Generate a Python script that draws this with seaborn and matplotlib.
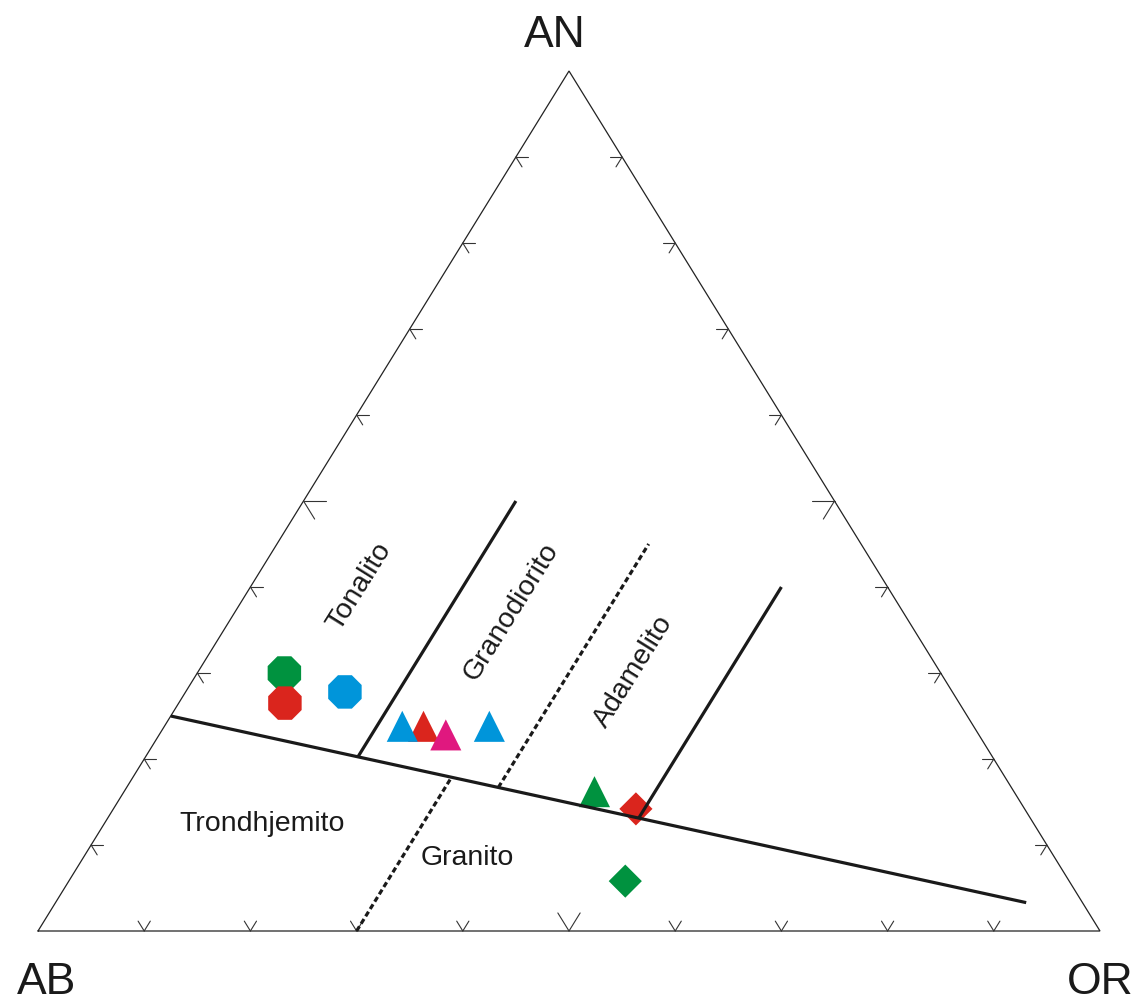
import numpy as np
import pandas as pd
import matplotlib
matplotlib.use("Agg")
import matplotlib.pyplot as plt
import seaborn as sns

# --- Samples (normative feldspar proportions, fractions of AB + AN + OR) ---
sample_ab = [0.618, 0.635, 0.572, 0.518, 0.538, 0.502, 0.456, 0.395, 0.366, 0.418]
sample_an = [0.300, 0.265, 0.278, 0.238, 0.238, 0.228, 0.238, 0.162, 0.142, 0.058]
sample_or = [0.082, 0.100, 0.150, 0.244, 0.224, 0.270, 0.306, 0.443, 0.492, 0.524]
sample_shape = ["octagon", "octagon", "octagon", "triangle", "triangle", "triangle",
                "triangle", "triangle", "diamond", "diamond"]
sample_color = ["#00923f", "#da251d", "#0095da", "#da251d", "#0095da", "#e0187f",
                "#0095da", "#00923f", "#da251d", "#00923f"]

# --- O'Connor field boundaries ---
# Trondhjemite/granite boundary (AB, AN, OR at both ends)
main_start = (0.750, 0.250, 0.000)
main_end = (0.053, 0.033, 0.914)
# Upper boundaries: constant OR, from the main boundary up to the given AN
upper_or = [0.20, 0.35, 0.50]
upper_top_an = [0.50, 0.45, 0.40]
upper_dashed = [False, True, False]
# Lower boundary: constant OR from the base up to the main boundary
lower_or = 0.30

tick_values = [0.1, 0.2, 0.3, 0.4, 0.5, 0.6, 0.7, 0.8, 0.9]

field_names = ["Tonalito", "Granodiorito", "Adamelito", "Trondhjemito", "Granito"]
apex_names = ["AB", "AN", "OR"]


def tern(ab, an, or_):
    ab, an, or_ = np.asarray(ab, float), np.asarray(an, float), np.asarray(or_, float)
    tot = ab + an + or_
    return (or_ + an / 2) / tot, an / tot


sns.set_theme(style="white")
plt.rcParams["font.family"] = ["Liberation Sans", "DejaVu Sans"]

fig = plt.figure(figsize=(11.43, 10.03), dpi=100)
ax = fig.add_axes([0, 0, 1, 1])
ax.set_xlim(-38 / 1062, 1105 / 1062)
ax.set_ylim(-71 / 860, 932 / 860)
ax.axis("off")

# triangle outline
vx, vy = tern([1, 0, 0, 1], [0, 1, 0, 0], [0, 0, 1, 0])
ax.plot(vx, vy, color="#222222", lw=0.9, zorder=3, solid_joinstyle="miter")

# tick stubs: short pieces of the grid lines through each tick point
for v in tick_values:
    d = 0.021 if abs(v - 0.5) < 1e-9 else 0.0115
    # left edge (OR = 0): constant AN to the right, constant AB down-right
    for p, q in [((1 - v, v, 0), (1 - v - d, v, d)), ((1 - v, v, 0), (1 - v, v - d, d))]:
        x, y = tern(*zip(p, q))
        ax.plot(x, y, color="#333333", lw=0.8, zorder=3)
    # right edge (AB = 0): constant AN to the left, constant OR down-left
    for p, q in [((0, v, 1 - v), (d, v, 1 - v - d)), ((0, v, 1 - v), (d, v - d, 1 - v))]:
        x, y = tern(*zip(p, q))
        ax.plot(x, y, color="#333333", lw=0.8, zorder=3)
    # base (AN = 0): constant OR up-right, constant AB up-left
    for p, q in [((1 - v, 0, v), (1 - v - d, d, v)), ((1 - v, 0, v), (1 - v, d, v - d))]:
        x, y = tern(*zip(p, q))
        ax.plot(x, y, color="#333333", lw=0.8, zorder=3)

# samples
df = pd.DataFrame({"AB": sample_ab, "AN": sample_an, "OR": sample_or,
                   "shape": sample_shape, "color": sample_color})
df["x"], df["y"] = tern(df["AB"], df["AN"], df["OR"])
marker_of = {"octagon": "8", "triangle": "^", "diamond": "D"}
size_of = {"octagon": 680, "triangle": 500, "diamond": 285}
for shape in ["octagon", "triangle", "diamond"]:
    sub = df[df["shape"] == shape]
    sns.scatterplot(data=sub, x="x", y="y", marker=marker_of[shape], s=size_of[shape],
                    c=sub["color"].tolist(), linewidth=0, ax=ax, zorder=2, legend=False)
ax.set_xlabel("")
ax.set_ylabel("")


def on_main(or_val):
    t = (or_val - main_start[2]) / (main_end[2] - main_start[2])
    return main_start[1] + t * (main_end[1] - main_start[1])


# field boundaries
mx, my = tern(*zip(main_start, main_end))
ax.plot(mx, my, color="#1a1a1a", lw=2.3, zorder=4, solid_capstyle="butt")
for k, top, dashed in zip(upper_or, upper_top_an, upper_dashed):
    a0 = on_main(k)
    x, y = tern([1 - k - a0, 1 - k - top], [a0, top], [k, k])
    ls = (0, (1.7, 1.0)) if dashed else "-"
    ax.plot(x, y, color="#1a1a1a", lw=2.3, ls=ls, zorder=4, solid_capstyle="butt")
a1 = on_main(lower_or)
x, y = tern([1 - lower_or, 1 - lower_or - a1], [0, a1], [lower_or, lower_or])
ax.plot(x, y, color="#1a1a1a", lw=2.3, ls=(0, (1.7, 1.0)), zorder=4)

# field names
txt_kw = dict(fontsize=20.5, color="#1a1a1a", zorder=5)
ax.text(322 / 1062, 345 / 860, field_names[0], rotation=58, ha="center", va="center", **txt_kw)
ax.text(473 / 1062, 320 / 860, field_names[1], rotation=58, ha="center", va="center", **txt_kw)
ax.text(596 / 1062, 260 / 860, field_names[2], rotation=58, ha="center", va="center", **txt_kw)
ax.text(224 / 1062, 101 / 860, field_names[3], ha="center", va="baseline", **txt_kw)
ax.text(429 / 1062, 67 / 860, field_names[4], ha="center", va="baseline", **txt_kw)

# apex labels
apex_kw = dict(fontsize=32, color="#1a1a1a", va="baseline")
ax.text(-21 / 1062, -62 / 860, apex_names[0], ha="left", **apex_kw)
ax.text(517 / 1062, 885 / 860, apex_names[1], ha="center", **apex_kw)
ax.text(1029 / 1062, -62 / 860, apex_names[2], ha="left", **apex_kw)

fig.savefig("out.png", dpi=100, facecolor="white")
